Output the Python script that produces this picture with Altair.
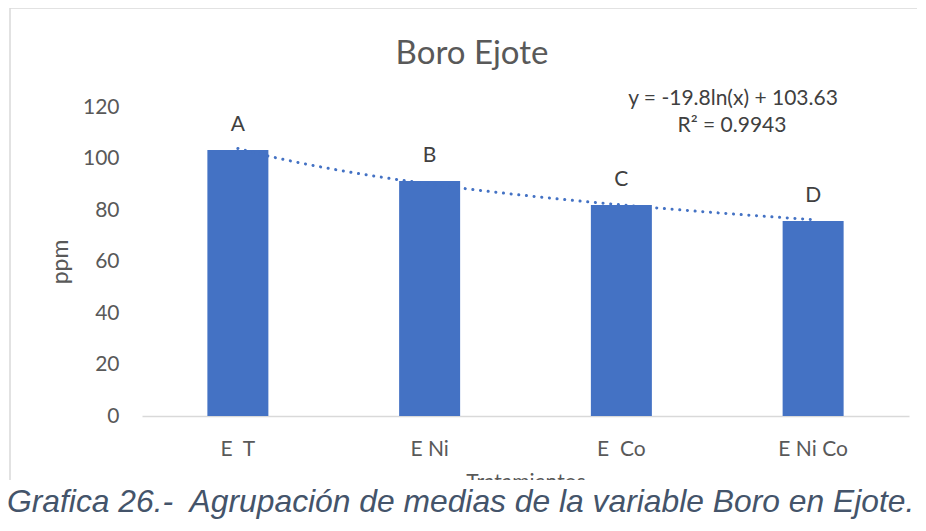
import altair as alt
import pandas as pd

# ---- data ----
categorias = ["E\u00a0\u00a0T", "E Ni", "E\u00a0\u00a0Co", "E Ni Co"]
valores = [103.3, 91.3, 81.9, 75.7]
letras = ["A", "B", "C", "D"]
indices = [1, 2, 3, 4]
y_ticks = [0, 20, 40, 60, 80, 100, 120]
titulo = "Boro Ejote"
ecuacion = ["y = -19.8ln(x) + 103.63", "R² = 0.9943"]
eje_x = "Tratamientos"
eje_y = "ppm"
pie = "Grafica 26.-\u00a0 Agrupación de medias de la variable Boro en Ejote."

W, H = 767, 309
AZUL = "#4472C4"
GRIS = "#595959"
FONT = "Lato"

df = pd.DataFrame({"cat": categorias, "valor": valores, "letra": letras, "idx": indices})

band_scale = alt.Scale(domain=categorias, paddingInner=0, paddingOuter=0)
y_enc = alt.Y(
    "valor:Q",
    scale=alt.Scale(domain=[0, 120], nice=False),
    axis=alt.Axis(
        values=y_ticks, title=eje_y, domain=False, ticks=False, tickSize=0, grid=False,
        labelFont=FONT, labelFontSize=21, labelColor=GRIS, labelPadding=23,
        titleFont=FONT, titleFontSize=23, titleColor=GRIS, titleFontWeight="normal",
        titlePadding=10,
    ),
)

one = alt.Data(values=[{"t": titulo}])

# chart frame: top and left edges (the right edge lies outside the picture)
frame_top = alt.Chart(one).mark_rule(color="#D9D9D9", strokeWidth=1.5).encode(
    x=alt.value(-132), x2=alt.value(800), y=alt.value(-99)
)
frame_left = alt.Chart(one).mark_rule(color="#D9D9D9", strokeWidth=1.5).encode(
    x=alt.value(-132), y=alt.value(-99), y2=alt.value(373)
)

bars = alt.Chart(df).mark_bar(size=61, color=AZUL).encode(
    x=alt.X(
        "cat:N", sort=categorias, scale=band_scale,
        axis=alt.Axis(
            title=eje_x, labelAngle=0, ticks=False, tickSize=0, grid=False,
            domainColor="#D9D9D9", domainWidth=1.5,
            labelFont=FONT, labelFontSize=21, labelColor=GRIS, labelPadding=22,
            titleFont=FONT, titleFontSize=21, titleColor=GRIS, titleFontWeight="normal",
            titlePadding=12,
        ),
    ),
    y=y_enc,
)

letters = alt.Chart(df).mark_text(
    font=FONT, fontSize=21, color="#404040", baseline="middle", dy=-25
).encode(
    x=alt.X("cat:N", sort=categorias, scale=band_scale, axis=None),
    y=alt.Y("valor:Q"),
    text="letra:N",
)

trend = alt.Chart(df).transform_regression(
    "idx", "valor", method="log", extent=[1, 4]
).mark_line(color=AZUL, strokeWidth=3, strokeDash=[0.1, 7.6], strokeCap="round").encode(
    x=alt.X("idx:Q", scale=alt.Scale(domain=[0.5, 4.5], nice=False, zero=False), axis=None),
    y=alt.Y("valor:Q"),
)

title_txt = alt.Chart(one).mark_text(
    font=FONT, fontSize=33, color=GRIS, align="center", baseline="alphabetic"
).encode(x=alt.value(330), y=alt.value(-43), text="t:N")

eq1 = alt.Chart(alt.Data(values=[{"t": ecuacion[0]}])).mark_text(
    font=FONT, fontSize=21, color="#404040", align="center", baseline="middle"
).encode(x=alt.value(591), y=alt.value(-8), text="t:N")

eq2 = alt.Chart(alt.Data(values=[{"t": ecuacion[1]}])).mark_text(
    font=FONT, fontSize=21, color="#404040", align="center", baseline="middle"
).encode(x=alt.value(590), y=alt.value(19), text="t:N")

cover = alt.Chart(one).mark_rect(color="white").encode(
    x=alt.value(-140), x2=alt.value(800), y=alt.value(373), y2=alt.value(440)
)

caption = alt.Chart(alt.Data(values=[{"t": pie}])).mark_text(
    font="Liberation Sans", fontStyle="italic", fontSize=31.8, color="#44546A",
    align="left", baseline="alphabetic"
).encode(x=alt.value(-135), y=alt.value(405), text="t:N")

chart = alt.layer(
    frame_top, frame_left, bars, letters, trend, title_txt, eq1, eq2, cover, caption
).resolve_scale(x="independent").properties(
    width=W, height=H, autosize="none",
    padding={"left": 134, "top": 99, "right": 8, "bottom": 106},
    background="white",
).configure_view(stroke=None)

chart.save("out.html", embed_options={"renderer": "svg", "actions": False})
